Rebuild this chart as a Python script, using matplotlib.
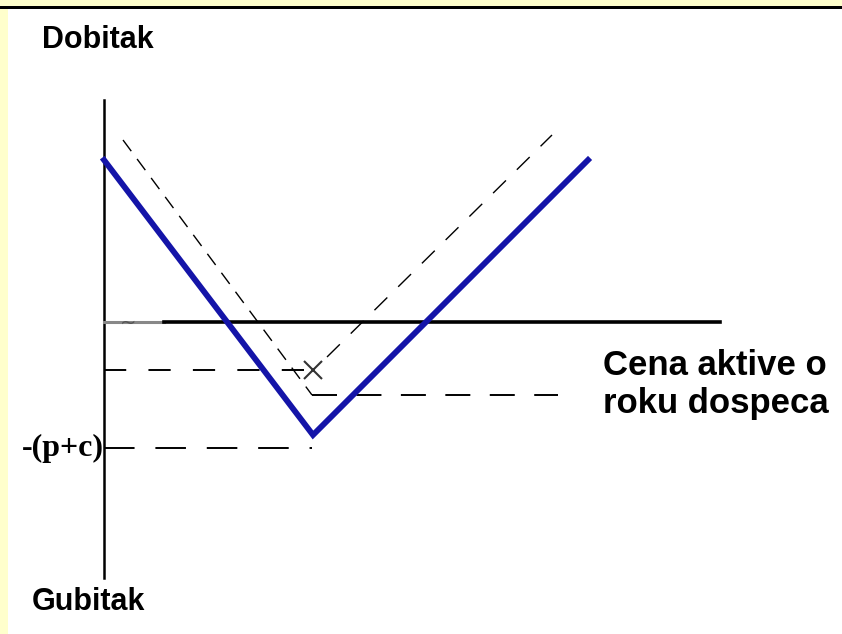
import matplotlib
matplotlib.use("Agg")
import matplotlib.pyplot as plt
from matplotlib.patches import Rectangle

plt.rcParams["lines.scale_dashes"] = False

# payoff diagram, origin where the axes cross (units ~ pixels of the sketch)
axis_top, axis_bottom = 222, -256
zero_end = 616

blue_x = [0, 209, 484]          # long put + long call (straddle-like)
blue_y = [162, -113, 162]

put_x = [19, 208]               # thin dashed put leg
put_y = [182, -73]
call_x = [223, 448]             # thin dashed call leg
call_y = [-35, 187]
floor_x = [208, 454]            # dashed level under the X
floor_y = -73

x_mark = (209, -48)
pc_level = -126                 # -(p+c)
pc_end = 208

price_label = ["Cena aktive o", "roku dospeca"]

fig = plt.figure(figsize=(8.42, 6.34), dpi=100)
fig.patch.set_facecolor("#ffffcc")
fig.patches.append(Rectangle((8 / 842, 0), 1, 1 - 9 / 634, transform=fig.transFigure,
                             facecolor="white", edgecolor="none", zorder=-2))
fig.patches.append(Rectangle((0, 1 - 9 / 634), 1, 3 / 634, transform=fig.transFigure,
                             facecolor="black", edgecolor="none", zorder=-1))

ax = fig.add_axes([0, 0, 1, 1])
ax.set_xlim(-104, 738)
ax.set_ylim(-312, 322)
ax.axis("off")
ax.patch.set_alpha(0)

# axes of the diagram
ax.plot([0, 0], [axis_bottom, axis_top], color="black", lw=1.8)
ax.plot([0, 60], [0, 0], color="#888888", lw=2.2)
ax.plot([60, zero_end], [0, 0], color="black", lw=2.6)
ax.text(24, -1, "~", fontsize=14, color="#555555", ha="center", va="center")

# dashed reference levels
ax.plot([0, x_mark[0]], [x_mark[1], x_mark[1]], color="black", lw=1.4, dashes=(16, 16))
ax.plot([0, pc_end], [pc_level, pc_level], color="black", lw=1.4, dashes=(22, 15))
ax.plot(floor_x, [floor_y, floor_y], color="black", lw=1.4, dashes=(18, 14))

# thin dashed legs
ax.plot(put_x, put_y, color="black", lw=1.0, dashes=(10, 7))
ax.plot(call_x, call_y, color="black", lw=1.0, dashes=(13, 11))

# payoff
ax.plot(blue_x, blue_y, color="#1414a8", lw=4.2, solid_joinstyle="miter", zorder=5)

ax.plot(*x_mark, marker="x", ms=13, mew=1.5, color="#333333")

ax.text(-62, 274, "Dobitak", fontsize=22, fontweight="bold",
        family="Liberation Sans", ha="left", va="baseline")
ax.text(-72, -280, "Gubitak", fontsize=22, fontweight="bold",
        family="Liberation Sans", ha="left", va="center")
for i, line in enumerate(price_label):
    ax.text(499, -53 - 38 * i, line, fontsize=25, fontweight="bold",
            family="Liberation Sans", ha="left", va="baseline")
ax.text(0, pc_level, "-(p+c)", fontsize=23, fontweight="bold",
        family="Liberation Serif", ha="right", va="center")

fig.savefig("out.png", dpi=100)
